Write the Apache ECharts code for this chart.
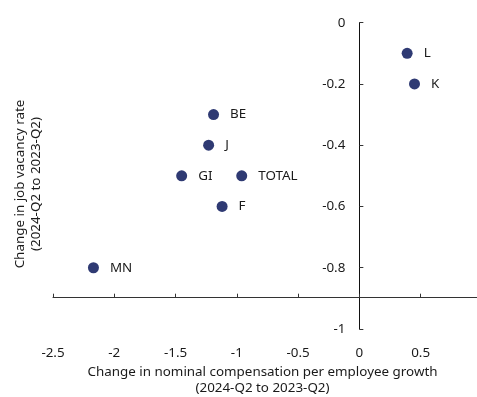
<!DOCTYPE html>
<html><head><meta charset="utf-8">
<script src="https://cdn.jsdelivr.net/npm/echarts@6/dist/echarts.min.js"></script>
<style>html,body{margin:0;padding:0;background:#fff}#c{width:477px;height:397px}</style>
</head><body><div id="c"></div>
<script>
const sectors = ['L','K','BE','J','GI','TOTAL','F','MN'];
const compGrowthChange = [0.39, 0.45, -1.19, -1.23, -1.45, -0.96, -1.12, -2.17];
const vacancyChange = [-0.1, -0.2, -0.3, -0.4, -0.5, -0.5, -0.6, -0.8];
const xTicks = [-2.5, -2, -1.5, -1, -0.5, 0, 0.5];
const yTicks = [0, -0.2, -0.4, -0.6, -0.8, -1];

const FONT = '"Noto Sans", sans-serif';
const TXT = '#1a1a1a';
const GL = 53, XMIN = -2.5, XMAX = 0.96, W = 477 - GL;
const zeroOffset = (0 - XMIN) / (XMAX - XMIN) * W;
const chart = echarts.init(document.getElementById('c'), null, {renderer:'canvas'});
const data = sectors.map((s,i)=>({name:s, value:[compGrowthChange[i], vacancyChange[i]]}));
chart.setOption({
  animation:false,
  backgroundColor:'#fff',
  textStyle:{fontFamily:FONT},
  grid:[
    {left:GL, right:0, top:22.7, bottom:68},
    {left:GL, right:0, top:22.7, bottom:99.3}
  ],
  xAxis:[
    {type:'value', gridIndex:0, min:XMIN, max:XMAX, interval:0.5,
     axisLine:{show:false, onZero:false}, axisTick:{show:false}, splitLine:{show:false},
     axisLabel:{customValues:xTicks, margin:18, fontSize:13.4, color:TXT, fontFamily:FONT}},
    {type:'value', gridIndex:1, min:XMIN, max:XMAX, interval:0.5,
     axisLine:{show:true, onZero:false, lineStyle:{color:'#333', width:1}},
     axisTick:{show:true, inside:true, length:4, customValues:xTicks, lineStyle:{color:'#333'}},
     axisLabel:{show:false}, splitLine:{show:false}}
  ],
  yAxis:[
    {type:'value', gridIndex:0, min:-1, max:0, interval:0.2, position:'left', offset:-zeroOffset,
     axisLine:{show:true, onZero:false, lineStyle:{color:'#111', width:1}},
     axisTick:{show:true, inside:true, length:4, lineStyle:{color:'#333'}},
     axisLabel:{customValues:yTicks, margin:14, fontSize:13.4, color:TXT, fontFamily:FONT},
     splitLine:{show:false}},
    {type:'value', gridIndex:1, min:-0.9, max:0, show:false}
  ],
  graphic:[
    {type:'text', x:28, y:184, rotation:Math.PI/2,
     style:{text:'Change in job vacancy rate\n(2024-Q2 to 2023-Q2)', font:'13.4px '+FONT,
            fill:TXT, align:'center', verticalAlign:'middle', lineHeight:16}},
    {type:'text', x:262.5, y:380,
     style:{text:'Change in nominal compensation per employee growth\n(2024-Q2 to 2023-Q2)', font:'13.4px '+FONT,
            fill:TXT, align:'center', verticalAlign:'middle', lineHeight:16}}
  ],
  series:[{
    type:'scatter', xAxisIndex:0, yAxisIndex:0, data:data,
    symbol:'circle', symbolSize:11,
    itemStyle:{color:'#2f3a73', opacity:1},
    label:{show:true, position:'right', distance:11, formatter:'{b}', fontSize:13.4, color:TXT, fontFamily:FONT}
  }]
});
</script></body></html>
